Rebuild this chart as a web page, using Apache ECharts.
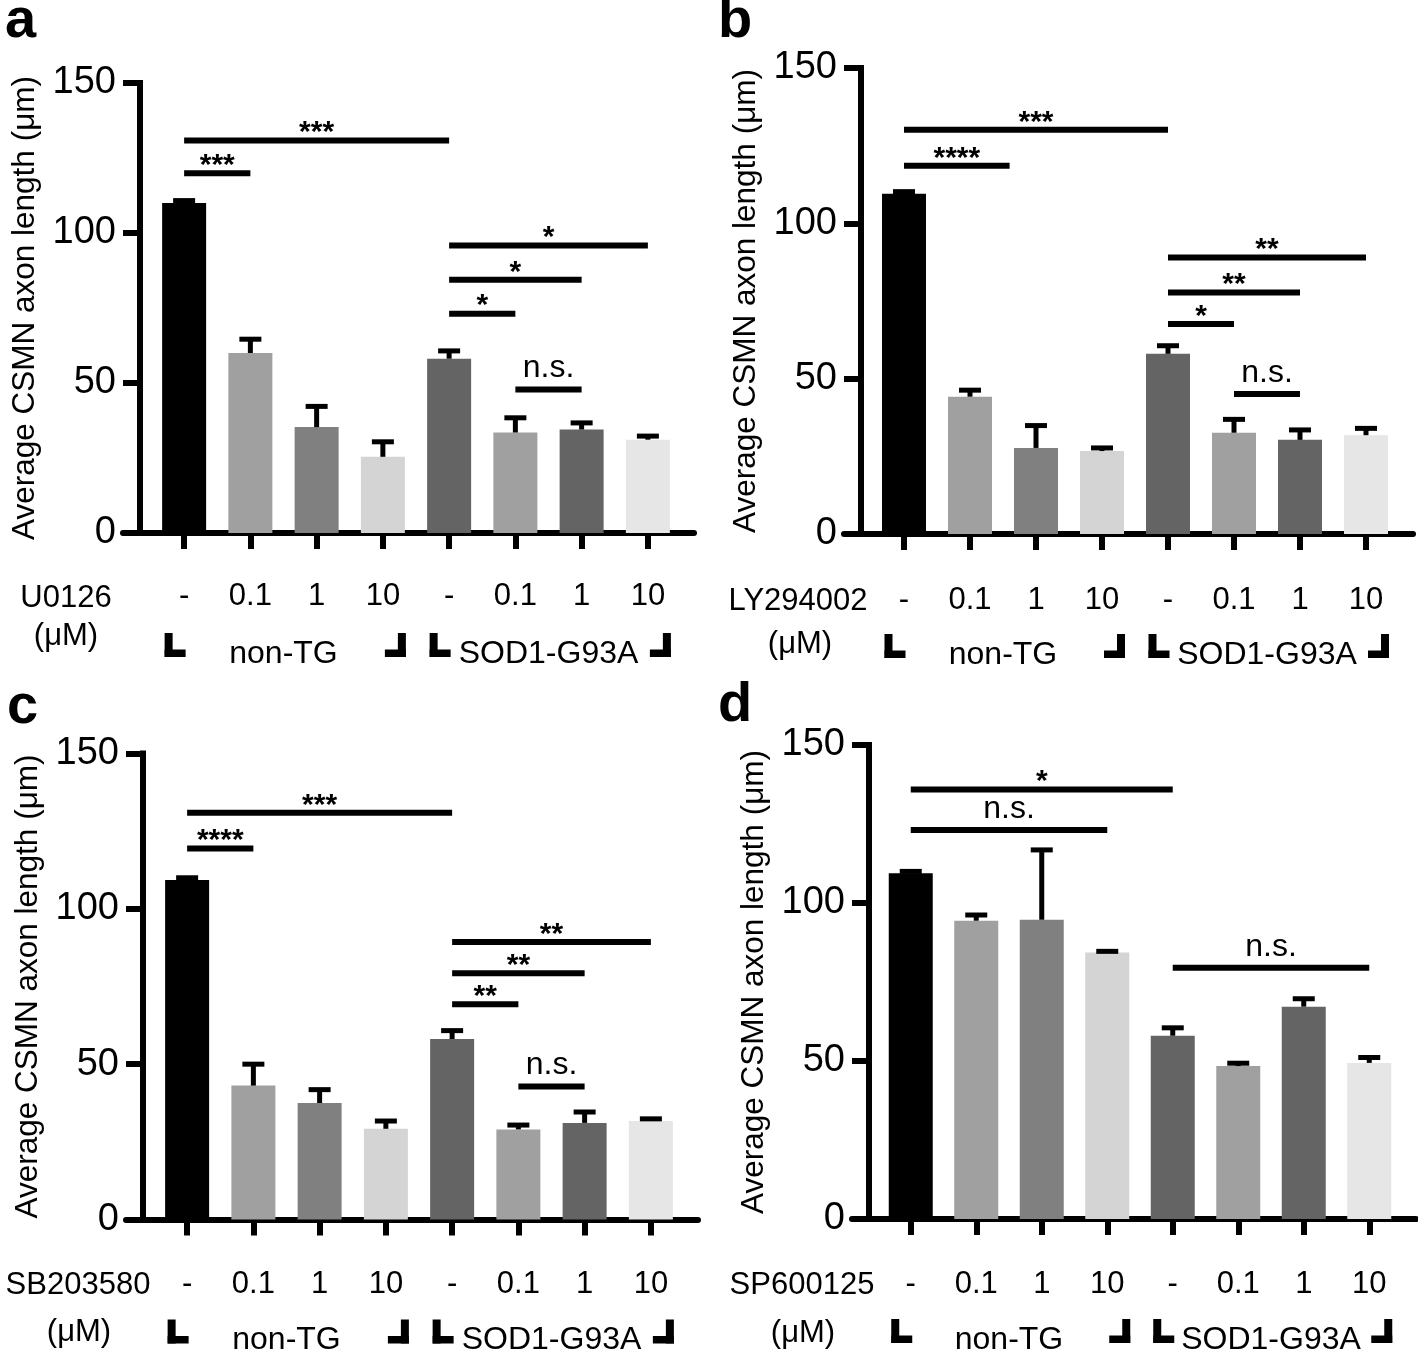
<!DOCTYPE html>
<html>
<head>
<meta charset="utf-8">
<script src="https://cdn.jsdelivr.net/npm/echarts@6/dist/echarts.min.js"></script>
<style>
  html, body { margin: 0; padding: 0; background: #fff; }
  #chart { width: 1418px; height: 1350px; }
</style>
</head>
<body>
<div id="chart"></div>
<script>
const FONT = '"Liberation Sans", Arial, sans-serif';

// shared categories / groups
const categories = ['-', '0.1', '1', '10', '-', '0.1', '1', '10'];
const groupNames = ['non-TG', 'SOD1-G93A'];
const groupFirst = [0, 4];
const groupLast = [3, 7];
const drugNames = ['U0126', 'LY294002', 'SB203580', 'SP600125'];
const panelLetters = ['a', 'b', 'c', 'd'];
const yTicks = [0, 50, 100, 150];

// a - U0126
const meanA = [110, 60, 35.3, 25.4, 58.1, 33.5, 34.5, 31.1];
const errA = [0.8, 4.6, 6.9, 5, 2.6, 4.9, 2.2, 1.2];
const sigFromA = [0, 0, 4, 4, 4, 5];
const sigToA = [4, 1, 7, 6, 5, 6];
const sigYA = [130.8, 119.9, 95.8, 84.4, 73.1, 47.8];
const sigTextA = ['***', '***', '*', '*', '*', 'n.s.'];

// b - LY294002
const meanB = [109.5, 44.2, 27.7, 26.7, 58, 32.6, 30.3, 31.8];
const errB = [0.7, 2.1, 7.2, 1, 2.6, 4.3, 3.2, 2.2];
const sigFromB = [0, 0, 4, 4, 4, 5];
const sigToB = [4, 1.6, 7, 6, 5, 6];
const sigYB = [130.1, 118.5, 89.0, 77.7, 67.6, 45.1];
const sigTextB = ['***', '****', '**', '**', '*', 'n.s.'];

// c - SB203580
const meanC = [109.3, 43.1, 37.5, 29.2, 58.1, 29, 31.1, 31.7];
const errC = [0.7, 6.9, 4.3, 2.5, 2.7, 1.4, 3.5, 0.7];
const sigFromC = [0, 0, 4, 4, 4, 5];
const sigToC = [4, 1, 7, 6, 5, 6];
const sigYC = [130.9, 119.4, 89.3, 79.3, 69.3, 42.8];
const sigTextC = ['***', '****', '**', '**', '**', 'n.s.'];

// d - SP600125
const meanD = [109.4, 94.4, 94.7, 84.3, 58, 48.4, 67.2, 49.4];
const errD = [0.6, 1.8, 22.1, 0.4, 2.5, 0.9, 2.5, 1.7];
const sigFromD = [0, 0, 4];
const sigToD = [4, 3, 7];
const sigYD = [135.9, 123.1, 79.5];
const sigTextD = ['*', 'n.s.', 'n.s.'];

const barColors = ['#000000', '#a0a0a0', '#808080', '#d4d4d4', '#646464', '#a0a0a0', '#646464', '#e6e6e6'];

const panels = [
  { mean: meanA, err: errA, from: sigFromA, to: sigToA, sy: sigYA, st: sigTextA },
  { mean: meanB, err: errB, from: sigFromB, to: sigToB, sy: sigYB, st: sigTextB },
  { mean: meanC, err: errC, from: sigFromC, to: sigToC, sy: sigYC, st: sigTextC },
  { mean: meanD, err: errD, from: sigFromD, to: sigToD, sy: sigYD, st: sigTextD }
];

// page layout (px)
const layout = [
  { left: 151, top: 83, width: 530, height: 450, off: 11, lineLeft: 123, lineW: 571, margin: 48, nameGap: 99,
    drug: [66, 598], unit: [66, 636], letter: [5, 22] },
  { left: 871, top: 68, width: 528, height: 466, off: 10, lineLeft: 844, lineW: 569, margin: 51, nameGap: 99,
    drug: [798, 601], unit: [800, 644], letter: [718, 22] },
  { left: 154, top: 753.5, width: 530, height: 466, off: 11, lineLeft: 126, lineW: 572, margin: 49, nameGap: 99,
    drug: [78, 1285], unit: [79, 1332], letter: [7, 708] },
  { left: 878, top: 745, width: 524, height: 474, off: 9, lineLeft: 852, lineW: 564, margin: 50, nameGap: 99,
    drug: [802, 1285], unit: [803, 1333], letter: [718, 706] }
];

function txtStyle(text, x, y, font, align, vAlign) {
  return {
    text: text, x: x, y: y, font: font, fill: '#000',
    align: align, verticalAlign: vAlign, textAlign: align, textVerticalAlign: vAlign
  };
}

// pixel x of a (possibly fractional) category position
function catX(api, c, y) {
  const lo = Math.floor(c), hi = Math.ceil(c);
  const p = api.coord([lo, y]), q = api.coord([hi, y]);
  return p[0] + (q[0] - p[0]) * (c - lo);
}

function renderErr(params, api) {
  const i = api.value(0), v = api.value(1), e = api.value(2);
  const base = api.coord([i, v]);
  const top = api.coord([i, v + e]);
  return {
    type: 'group',
    children: [
      { type: 'line', shape: { x1: base[0], y1: base[1], x2: top[0], y2: top[1] }, style: { stroke: '#000', lineWidth: 5 } },
      { type: 'line', shape: { x1: top[0] - 11, y1: top[1], x2: top[0] + 11, y2: top[1] }, style: { stroke: '#000', lineWidth: 5 } }
    ]
  };
}

function makeSigRender(texts) {
  return function (params, api) {
    const y = api.value(1);
    const x0 = catX(api, api.value(0), y);
    const x1 = catX(api, api.value(2), y);
    const py = api.coord([0, y])[1];
    const t = texts[params.dataIndex];
    const star = t.charAt(0) === '*';
    return {
      type: 'group',
      children: [
        { type: 'line', shape: { x1: x0, y1: py, x2: x1, y2: py }, style: { stroke: '#000', lineWidth: 6 } },
        { type: 'text', style: txtStyle(t, (x0 + x1) / 2, star ? py - 7.5 : py - 21,
            star ? 'bold 30px ' + FONT : '32px ' + FONT, 'center', 'middle') }
      ]
    };
  };
}

function renderGroup(params, api) {
  const j = params.dataIndex;
  const a = api.coord([api.value(0), 0]);
  const b = api.coord([api.value(2), 0]);
  const top = a[1] + 100, h = 24, t = 7.5;
  const fill = { fill: '#000' };
  return {
    type: 'group',
    children: [
      { type: 'rect', shape: { x: a[0] - 19.5, y: top, width: 8, height: h }, style: fill },
      { type: 'rect', shape: { x: a[0] - 19.5, y: top + h - t, width: 21, height: t }, style: fill },
      { type: 'rect', shape: { x: b[0] + 15, y: top, width: 8, height: h }, style: fill },
      { type: 'rect', shape: { x: b[0] + 2, y: top + h - t, width: 21, height: t }, style: fill },
      { type: 'text', style: txtStyle(groupNames[j], (a[0] + b[0]) / 2, a[1] + 121, '32px ' + FONT, 'center', 'middle') }
    ]
  };
}

const grid = [], xAxis = [], yAxis = [], series = [], graphic = [];

layout.forEach(function (L, k) {
  const P = panels[k];
  grid.push({ left: L.left, top: L.top, width: L.width, height: L.height });
  xAxis.push({
    type: 'category', gridIndex: k, data: categories,
    axisLine: { show: false },
    axisTick: { show: true, alignWithLabel: true, length: 16, lineStyle: { color: '#000', width: 6 } },
    axisLabel: { color: '#000', fontSize: 31, fontFamily: FONT, margin: L.margin, interval: 0 },
    splitLine: { show: false }
  });
  yAxis.push({
    type: 'value', gridIndex: k, min: yTicks[0], max: yTicks[yTicks.length - 1], interval: 50,
    offset: L.off,
    name: 'Average CSMN axon length (μm)', nameLocation: 'middle', nameGap: L.nameGap,
    nameTextStyle: { color: '#000', fontSize: 31.5, fontFamily: FONT },
    axisLine: { show: true, lineStyle: { color: '#000', width: 6, cap: 'square' } },
    axisTick: { show: true, length: 17, lineStyle: { color: '#000', width: 6 } },
    axisLabel: { color: '#000', fontSize: 38, fontFamily: FONT, margin: 24 },
    splitLine: { show: false }
  });

  series.push({
    type: 'bar', xAxisIndex: k, yAxisIndex: k, barWidth: 44, silent: true,
    data: P.mean.map(function (v, i) { return { value: v, itemStyle: { color: barColors[i] } }; })
  });
  series.push({
    type: 'custom', xAxisIndex: k, yAxisIndex: k, silent: true, renderItem: renderErr,
    data: P.mean.map(function (v, i) { return [i, v, P.err[i]]; }), z: 3
  });
  series.push({
    type: 'custom', xAxisIndex: k, yAxisIndex: k, silent: true, renderItem: makeSigRender(P.st),
    data: P.sy.map(function (y, j) { return [P.from[j], y, P.to[j]]; }), z: 3
  });
  series.push({
    type: 'custom', xAxisIndex: k, yAxisIndex: k, silent: true, renderItem: renderGroup,
    data: groupFirst.map(function (g, j) { return [g, 0, groupLast[j]]; }), z: 3
  });

  graphic.push({ type: 'text', x: L.letter[0], y: L.letter[1],
    style: txtStyle(panelLetters[k], 0, 0, 'bold 56px ' + FONT, 'left', 'middle') });
  graphic.push({ type: 'text', x: L.drug[0], y: L.drug[1],
    style: txtStyle(drugNames[k], 0, 0, '31px ' + FONT, 'center', 'middle') });
  graphic.push({ type: 'text', x: L.unit[0], y: L.unit[1],
    style: txtStyle('(μM)', 0, 0, '31px ' + FONT, 'center', 'middle') });
});

// long x-axis baselines (GraphPad style, running under the y ticks)
layout.forEach(function (L, k) {
  const g = 4 + k;
  grid.push({ left: L.lineLeft, top: L.top, width: L.lineW, height: L.height });
  xAxis.push({
    type: 'value', gridIndex: g, min: 0, max: 1,
    axisLine: { show: true, onZero: false, lineStyle: { color: '#000', width: 6 } },
    axisTick: { show: false }, axisLabel: { show: false }, splitLine: { show: false }
  });
  yAxis.push({ type: 'value', gridIndex: g, min: 0, max: 1, show: false });
});

const chart = echarts.init(document.getElementById('chart'), null, { renderer: 'canvas' });
chart.setOption({
  backgroundColor: '#fff',
  animation: false,
  grid: grid,
  xAxis: xAxis,
  yAxis: yAxis,
  series: series,
  graphic: graphic
});
</script>
</body>
</html>
